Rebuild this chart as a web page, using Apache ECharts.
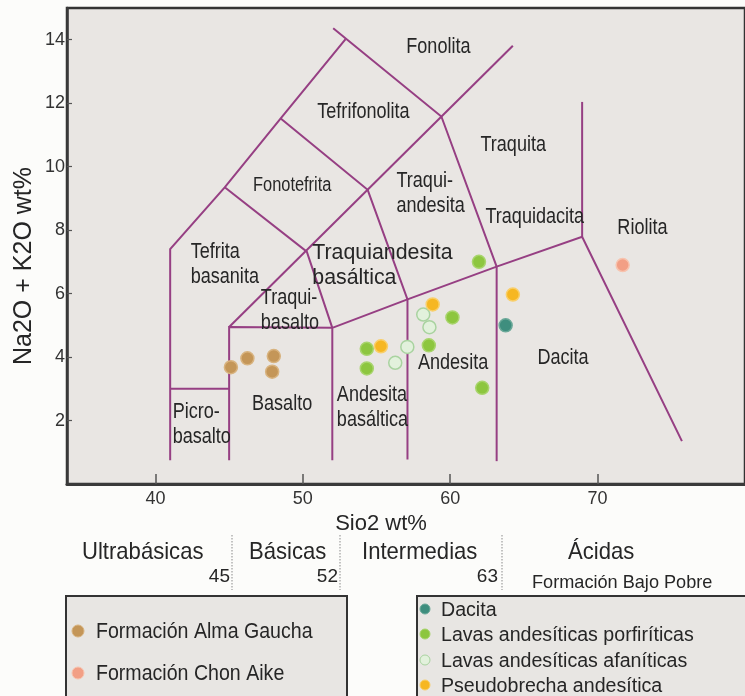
<!DOCTYPE html>
<html>
<head>
<meta charset="utf-8">
<script src="https://cdn.jsdelivr.net/npm/echarts@6/dist/echarts.min.js"></script>
<style>
  html, body { margin: 0; padding: 0; background: #fcfcfa; }
  #chart { width: 745px; height: 696px; }
</style>
</head>
<body>
<div id="chart"></div>
<script>
// Axis ticks
const sio2Ticks = [40, 50, 60, 70];
const alkaliTicks = [2, 4, 6, 8, 10, 12, 14];

// TAS field boundaries: polylines of [SiO2 wt%, Na2O + K2O wt%]
const fieldBoundaries = [
  [[41, 0.75], [41, 7.4], [44.7, 9.35], [48.5, 11.52], [52.9, 14.02]],
  [[41, 3], [45, 3]],
  [[45, 0.75], [45, 4.95], [52, 4.92]],
  [[45, 4.95], [64.25, 13.81]],
  [[52.06, 14.36], [59.4, 11.58], [63.15, 6.85]],
  [[52, 0.75], [52, 4.92], [57.1, 5.82], [63.15, 6.85], [68.95, 7.79], [75.72, 1.35]],
  [[57.1, 0.77], [57.1, 5.82], [54.4, 9.27], [48.5, 11.52]],
  [[44.7, 9.35], [50.27, 7.32], [52, 4.92]],
  [[63.15, 0.72], [63.15, 6.85]],
  [[68.95, 7.79], [68.95, 12.04]]
];

// Field names and where they sit in the diagram (left edge, vertical middle)
const fieldNames = ['Fonolita', 'Tefrifonolita', 'Fonotefrita', 'Traquita', 'Traqui-\nandesita',
  'Traquidacita', 'Riolita', 'Tefrita\nbasanita', 'Traquiandesita\nbasáltica', 'Traqui-\nbasalto',
  'Picro-\nbasalto', 'Basalto', 'Andesita\nbasáltica', 'Andesita', 'Dacita'];
const fieldNameAnchors = [[57.02, 13.78], [50.98, 11.72], [46.62, 9.42], [62.05, 10.68], [56.35, 9.14],
  [62.39, 8.42], [71.34, 8.08], [42.39, 6.92], [50.64, 6.89], [47.15, 5.47],
  [41.17, 1.88], [46.55, 2.52], [52.31, 2.41], [57.81, 3.81], [65.92, 3.97]];

// Samples [SiO2, Na2O + K2O]
const almaGaucha = [[45.12, 3.68], [46.24, 3.96], [48.03, 4.03], [47.92, 3.54]];
const chonAike = [[71.7, 6.9]];
const dacita = [[63.76, 5.0]];
const lavasPorfiriticas = [[61.95, 7.0], [60.15, 5.25], [58.55, 4.37], [62.17, 3.03], [54.34, 4.26], [54.34, 3.64]];
const lavasAfaniticas = [[58.17, 5.34], [58.59, 4.94], [57.09, 4.32], [56.27, 3.82]];
const pseudobrecha = [[58.81, 5.66], [64.25, 5.97], [55.3, 4.34]];

// Silica classes along the SiO2 axis
const silicaClasses = ['Ultrabásicas', 'Básicas', 'Intermedias', 'Ácidas'];
const silicaLimits = ['45', '52', '63'];

const SANS = "'Liberation Sans', Arial, sans-serif";
const INK = '#262626';
const LINE = '#963f83';

// Marker fill and rim per sample group
const markerStyle = {
  'Formación Alma Gaucha': ['#c49658', '#d8b37f'],
  'Formación Chon Aike': ['#f29f85', '#f7c3ae'],
  'Dacita': ['#3e8e7e', '#6aa898'],
  'Lavas andesíticas porfiríticas': ['#8dc63f', '#a8d46c'],
  'Lavas andesíticas afaníticas': ['#e2f1dc', '#a9d3a0'],
  'Pseudobrecha andesítica': ['#f6b722', '#f9cf6a']
};

function sampleSeries(name, data) {
  return {
    name: name, type: 'scatter', data: data, symbolSize: 13, z: 5, silent: true,
    itemStyle: { color: markerStyle[name][0], borderColor: markerStyle[name][1], borderWidth: 1.5, opacity: 1 }
  };
}

// Condensed lettering: [font size, horizontal squeeze]
const nameLook = { 'Fonotefrita': [20, 0.82], 'Traquiandesita\nbasáltica': [22, 0.97] };
const defaultLook = [21.5, 0.84];

function text(str, x, y, size, squeeze, align) {
  return {
    type: 'text', x: x, y: y, scaleX: squeeze, z: 10, silent: true,
    style: { text: str, fontFamily: SANS, fontSize: size, lineHeight: 25, fill: INK,
             align: align || 'left', verticalAlign: 'middle' }
  };
}

const chart = echarts.init(document.getElementById('chart'), null, { renderer: 'canvas' });
chart.setOption({
  animation: false,
  backgroundColor: '#fcfcfa',
  grid: {
    left: 67, top: 8, width: 685.4, height: 476,
    show: true, backgroundColor: '#e9e6e3', borderColor: '#333', borderWidth: 2.5
  },
  xAxis: {
    type: 'value', min: 34, max: 80,
    splitLine: { show: false },
    axisLine: { lineStyle: { color: '#3a3a3a', width: 3 } },
    axisTick: { inside: true, length: 10, customValues: sio2Ticks, lineStyle: { color: '#555', width: 1.5 } },
    axisLabel: { customValues: sio2Ticks, fontFamily: SANS, fontSize: 18, color: '#333', margin: 6 },
    name: 'Sio2 wt%', nameLocation: 'middle', nameGap: 25,
    nameTextStyle: { fontFamily: SANS, fontSize: 22, color: INK, padding: [0, 50, 0, 0] }
  },
  yAxis: {
    type: 'value', min: 0, max: 15,
    splitLine: { show: false },
    axisLine: { lineStyle: { color: '#3a3a3a', width: 2.5 } },
    axisTick: { inside: true, length: 5, customValues: alkaliTicks, lineStyle: { color: '#555', width: 1.2 } },
    axisLabel: { customValues: alkaliTicks, fontFamily: SANS, fontSize: 18, color: '#333', margin: 2 },
    name: 'Na2O + K2O wt%', nameLocation: 'middle', nameRotate: 90, nameGap: 30, nameMoveOverlap: false,
    nameTextStyle: { fontFamily: SANS, fontSize: 25, color: INK, padding: [0, 40, 0, 0] }
  },
  series: [
    {
      name: 'Límites', type: 'lines', coordinateSystem: 'cartesian2d', polyline: true, silent: true, z: 2,
      lineStyle: { color: LINE, width: 2, opacity: 1 },
      data: fieldBoundaries.map(function (c) { return { coords: c }; })
    },
    sampleSeries('Formación Alma Gaucha', almaGaucha),
    sampleSeries('Formación Chon Aike', chonAike),
    sampleSeries('Dacita', dacita),
    sampleSeries('Lavas andesíticas porfiríticas', lavasPorfiriticas),
    sampleSeries('Lavas andesíticas afaníticas', lavasAfaniticas),
    sampleSeries('Pseudobrecha andesítica', pseudobrecha)
  ]
});

// Field names placed through the grid's coordinate system
const fieldLabels = fieldNames.map(function (n, i) {
  const p = chart.convertToPixel({ gridIndex: 0 }, fieldNameAnchors[i]);
  const look = nameLook[n] || defaultLook;
  return text(n, p[0], p[1], look[0], look[1]);
});

// Silica classes below the axis
const classX = [82, 249, 362, 568];
const limitX = [230, 338, 498];
const dividerX = [232, 340, 502];
const classLabels = silicaClasses.map(function (c, i) { return text(c, classX[i], 552, 24, 0.92); })
  .concat(silicaLimits.map(function (l, i) { return text(l, limitX[i], 577, 19, 1, 'right'); }))
  .concat(dividerX.map(function (x) {
    return { type: 'line', shape: { x1: x, y1: 535, x2: x, y2: 590 }, silent: true,
             style: { stroke: '#8a8a8a', lineWidth: 1, lineDash: [1.5, 1.5] } };
  }))
  .concat([text('Formación Bajo Pobre', 532, 583, 18.5, 0.98)]);

// Legend boxes
function legendBox(x, w, names, dotX, textX, rowsY, r, size, squeeze) {
  const items = [{ type: 'rect', shape: { x: x, y: 596, width: w, height: 140 }, z: 8, silent: true,
                   style: { fill: '#e8e6e3', stroke: '#333', lineWidth: 2 } }];
  names.forEach(function (n, i) {
    items.push({ type: 'circle', shape: { cx: dotX, cy: rowsY[i], r: r }, z: 9, silent: true,
                 style: { fill: markerStyle[n][0], stroke: markerStyle[n][1], lineWidth: 1 } });
    items.push(text(n, textX, rowsY[i] + 1, size, squeeze));
  });
  return items;
}
const legend1 = legendBox(66, 281, ['Formación Alma Gaucha', 'Formación Chon Aike'], 78, 96, [631, 673], 6, 22, 0.89);
const legend2 = legendBox(417, 360, ['Dacita', 'Lavas andesíticas porfiríticas', 'Lavas andesíticas afaníticas', 'Pseudobrecha andesítica'],
  425, 441, [609, 634, 660, 685], 5, 20, 0.98);

chart.setOption({ graphic: fieldLabels.concat(classLabels, legend1, legend2) });
</script>
</body>
</html>
